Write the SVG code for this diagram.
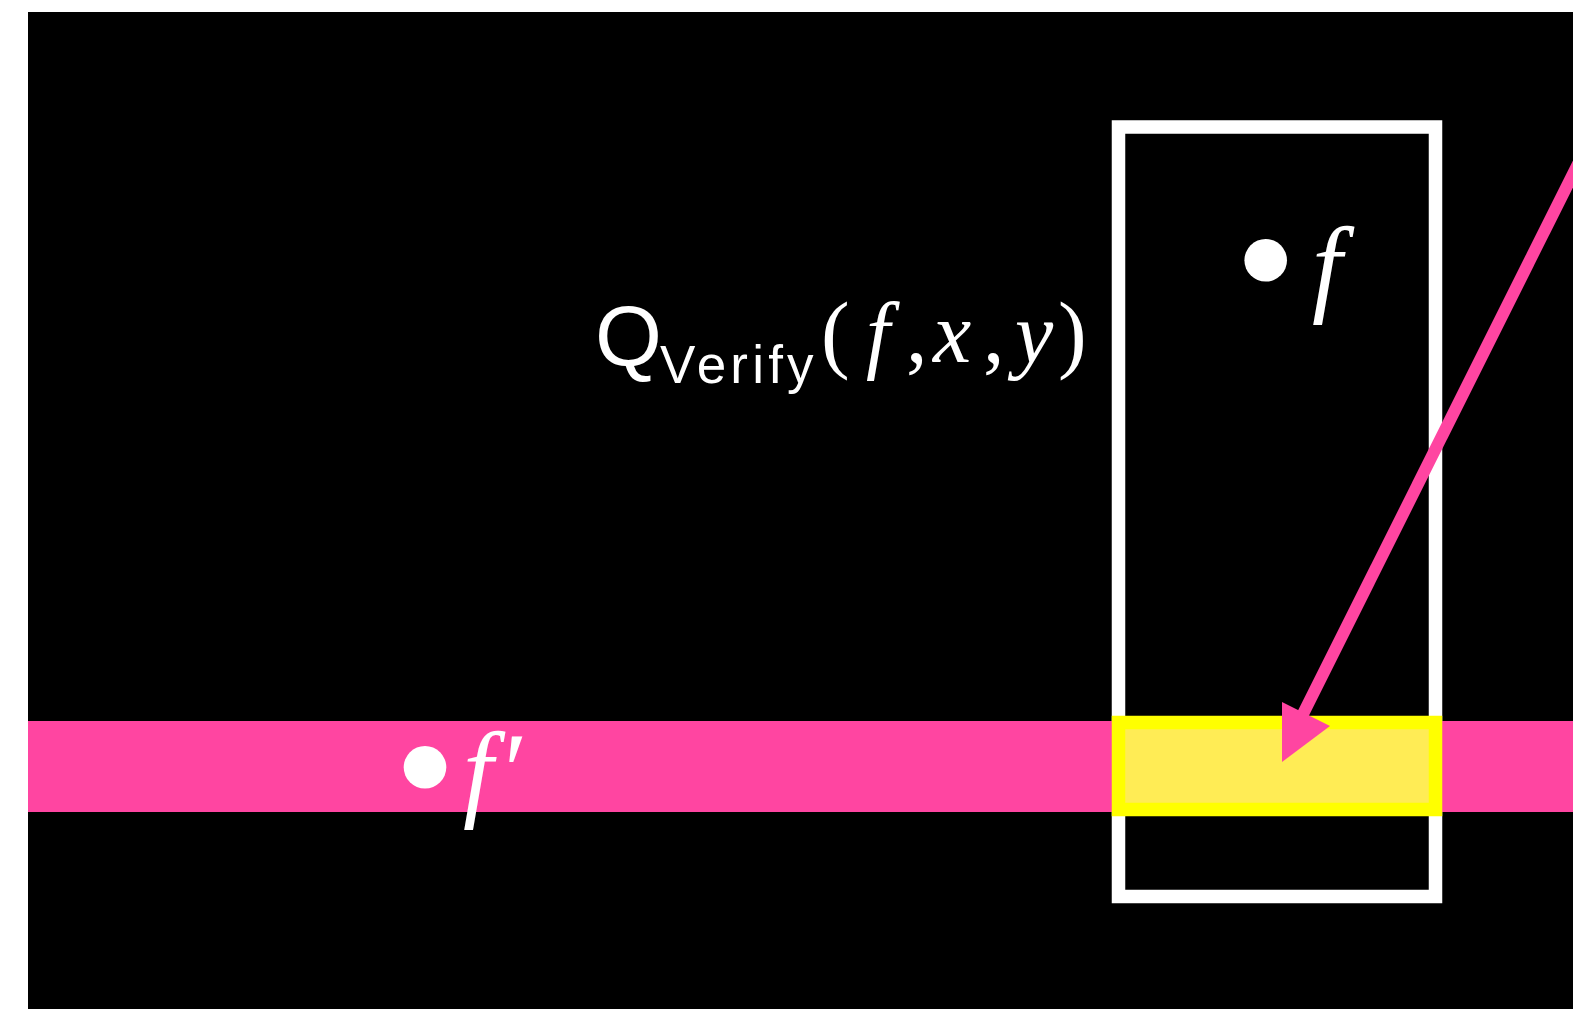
<svg xmlns="http://www.w3.org/2000/svg" width="1573" height="1009" viewBox="0 0 1573 1009">
  <style>
    .math { font-family: "Liberation Serif", "DejaVu Serif", serif; fill: #ffffff; }
    .it { font-style: italic; }
    .sans { font-family: "Liberation Sans", Arial, sans-serif; fill: #ffffff; }
    .pink { fill: #ff45a1; }
    .dot { fill: #ffffff; }
  </style>
  <defs>
    <marker id="head" markerUnits="userSpaceOnUse" orient="0" markerWidth="60" markerHeight="70" refX="18" refY="18" viewBox="0 0 60 70">
      <path d="M0,0 L48,24 L0,60 Z" fill="#ff45a1"/>
    </marker>
  </defs>
  <rect x="0" y="0" width="1573" height="1009" fill="#ffffff"/>
  <rect x="28" y="12" width="1545" height="997" fill="#000000"/>

  <g id="box-f">
    <rect x="1118.5" y="127" width="317" height="769.5" fill="none" stroke="#ffffff" stroke-width="13.5"/>
  </g>
  <g id="band-fprime">
    <rect class="pink" x="28" y="721" width="1545" height="91"/>
  </g>
  <g id="highlight">
    <rect x="1118.5" y="722.5" width="317" height="87" fill="#ffec55" stroke="#ffff00" stroke-width="13.5"/>
  </g>

  <g id="connectors">
    <line x1="1590" y1="140" x2="1300" y2="720" stroke="#ff45a1" stroke-width="12" marker-end="url(#head)"/>
  </g>

  <g id="label-qverify">
    <text class="sans" x="595" y="366" font-size="86">Q</text>
    <text class="sans" x="660" y="383" font-size="53" letter-spacing="4.2">Verify</text>
    <text class="math" y="362" font-size="86"><tspan x="821">(</tspan><tspan class="it" x="866">f</tspan><tspan x="906">,</tspan><tspan class="it" x="933">x</tspan><tspan x="983">,</tspan><tspan class="it" x="1015">y</tspan><tspan x="1058">)</tspan></text>
  </g>

  <g id="node-f">
    <circle class="dot" cx="1265.7" cy="260.3" r="21.3"/>
    <text class="math it" x="1312" y="302" font-size="108">f</text>
  </g>
  <g id="node-fprime">
    <circle class="dot" cx="425" cy="767.3" r="21.3"/>
    <text class="math" y="807" font-size="108"><tspan class="it" x="463">f</tspan><tspan x="504">′</tspan></text>
  </g>
</svg>
